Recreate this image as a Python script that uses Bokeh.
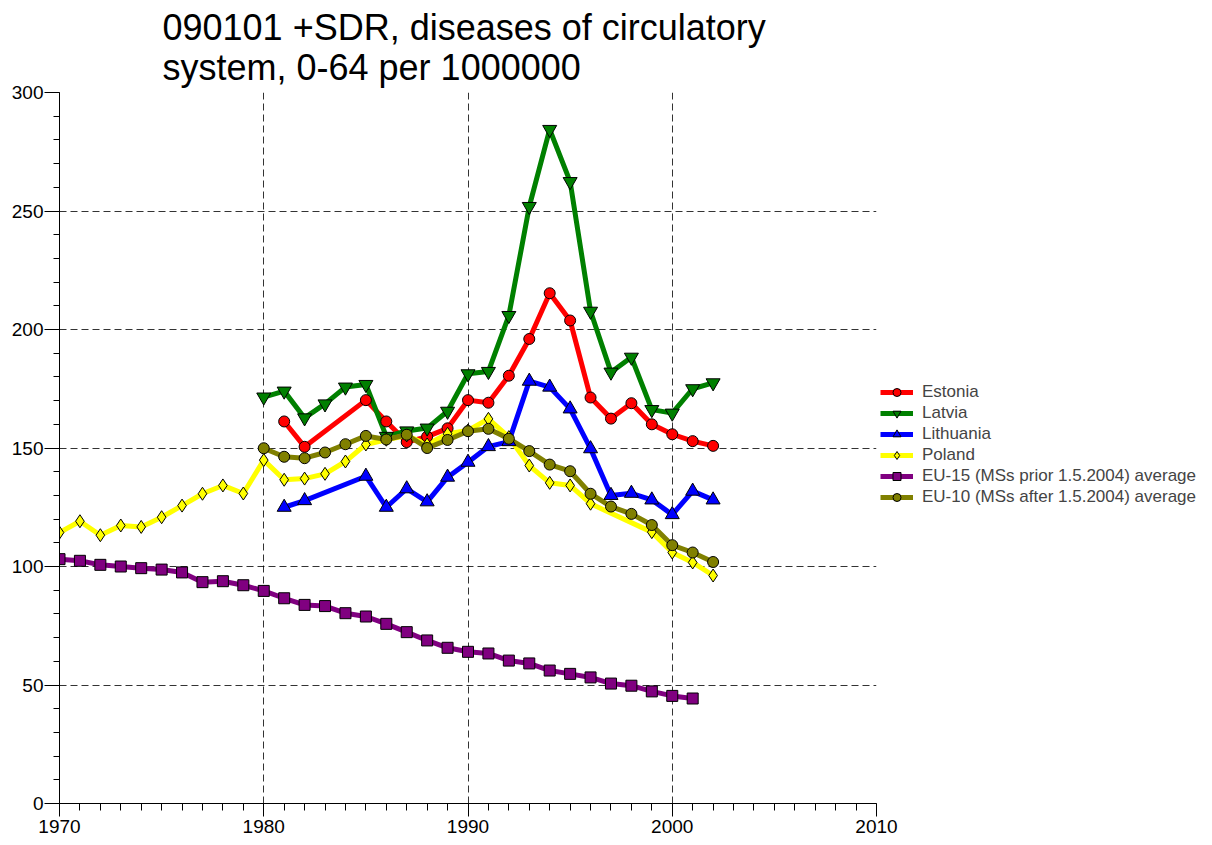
from bokeh.plotting import figure
from bokeh.models import (Title, Legend, LegendItem, FixedTicker, Range1d)
from bokeh.embed import file_html
from bokeh.resources import INLINE

# ---- data ----
estonia_years = [1981, 1982, 1985, 1986, 1987, 1988, 1989, 1990, 1991, 1992, 1993,
                 1994, 1995, 1996, 1997, 1998, 1999, 2000, 2001, 2002]
estonia_vals = [161.2, 150.5, 170.2, 161.2, 152.5, 154.8, 158.3, 170.2, 169.1, 180.5, 196.0,
                215.3, 203.8, 171.3, 162.4, 168.9, 160.0, 155.8, 152.9, 150.9]

latvia_years = list(range(1980, 2003))
latvia_vals = [171.5, 174.0, 162.7, 168.6, 175.7, 176.8, 154.9, 157.2, 158.4, 165.5, 181.3,
               182.3, 205.9, 251.9, 284.4, 262.4, 207.7, 182.0, 188.3, 166.2, 164.7, 175.0, 177.5]

lithuania_years = [1981, 1982, 1985, 1986, 1987, 1988, 1989, 1990, 1991, 1992, 1993,
                   1994, 1995, 1996, 1997, 1998, 1999, 2000, 2001, 2002]
lithuania_vals = [125.0, 127.8, 138.1, 125.0, 132.8, 127.3, 137.7, 144.0, 150.6, 152.7, 178.2,
                  175.7, 166.5, 149.7, 130.0, 130.9, 128.1, 121.9, 131.8, 128.1]

poland_years = list(range(1970, 1997)) + [1999, 2000, 2001, 2002]
poland_vals = [114.3, 119.1, 113.2, 117.3, 116.7, 120.8, 125.7, 130.7, 134.2, 130.8,
               144.9, 136.6, 137.1, 139.1, 144.3, 151.5, 153.5, 155.3, 151.5, 156.0,
               157.4, 162.3, 154.6, 142.6, 135.3, 134.2, 126.5,
               114.5, 105.9, 101.7, 96.2]

eu15_years = list(range(1970, 2002))
eu15_vals = [103.1, 102.4, 100.7, 100.0, 99.3, 98.7, 97.5, 93.4, 93.8, 92.1,
             89.7, 86.6, 83.8, 83.3, 80.3, 78.9, 75.8, 72.3, 68.8, 65.7,
             64.0, 63.3, 60.3, 59.1, 56.1, 54.7, 53.2, 50.6, 49.7, 47.3, 45.4, 44.3]

eu10_years = list(range(1980, 2003))
eu10_vals = [149.9, 146.3, 145.7, 148.1, 151.6, 155.1, 153.6, 155.6, 150.0, 153.4, 157.1,
             158.1, 153.9, 148.7, 143.0, 140.2, 130.7, 125.3, 122.2, 117.5, 109.0, 105.9, 101.9]

x_ticks = [1970, 1980, 1990, 2000, 2010]
y_ticks = [0, 50, 100, 150, 200, 250, 300]

series = [
    ("Estonia", estonia_years, estonia_vals, "#FF0000", "circle", 11),
    ("Latvia", latvia_years, latvia_vals, "#008000", "inverted_triangle", 14),
    ("Lithuania", lithuania_years, lithuania_vals, "#0000FF", "triangle", 14),
    ("Poland", poland_years, poland_vals, "#FFFF00", "diamond", 13),
    ("EU-15 (MSs prior 1.5.2004) average", eu15_years, eu15_vals, "#800080", "square", 11),
    ("EU-10 (MSs after 1.5.2004) average", eu10_years, eu10_vals, "#808000", "circle", 11),
]

FONT = "Liberation Sans"

p = figure(frame_width=817, frame_height=711, output_backend="svg",
           toolbar_location=None, x_range=Range1d(1970, 2010), y_range=Range1d(0, 300),
           min_border_left=59, min_border_bottom=0, min_border_right=0, min_border_top=0)
p.title = Title(text="090101 +SDR, diseases of circulatory\nsystem, 0-64 per 1000000",
                text_font=FONT, text_font_size="36px", text_font_style="normal",
                text_color="black", align="left", offset=103, standoff=9,
                text_line_height=0.97)
p.outline_line_color = None
p.background_fill_color = "white"

p.xaxis.ticker = FixedTicker(ticks=x_ticks, minor_ticks=list(range(1970, 2011)))
p.yaxis.ticker = FixedTicker(ticks=y_ticks, minor_ticks=list(range(0, 301, 10)))
for ax in (p.xaxis, p.yaxis):
    ax.axis_line_color = "black"
    ax.major_tick_line_color = "black"
    ax.minor_tick_line_color = "black"
    ax.major_tick_in = 0
    ax.minor_tick_in = 0
    ax.major_label_text_font = FONT
    ax.major_label_text_font_size = "19px"
    ax.major_label_text_color = "black"
p.xaxis.major_tick_out = 13
p.xaxis.minor_tick_out = 7
p.xaxis.major_label_standoff = 3
p.yaxis.major_tick_out = 15
p.yaxis.minor_tick_out = 6
p.yaxis.major_label_standoff = 1

for g in (p.xgrid, p.ygrid):
    g.grid_line_color = "black"
    g.grid_line_alpha = 0.8
    g.grid_line_dash = "7 4"
    g.grid_line_width = 1

line_rs = []
for name, xs, ys, col, mk, sz in series:
    line_rs.append(p.line(xs, ys, line_color=col, line_width=5))
items = []
for (name, xs, ys, col, mk, sz), lr in zip(series, line_rs):
    sr = p.scatter(xs, ys, marker=mk, size=sz, fill_color=col, line_color="black",
                   line_width=1)
    items.append(LegendItem(label=name, renderers=[lr, sr]))

legend = Legend(items=items, location=(4, 296), label_text_font=FONT,
                label_text_font_size="17px", glyph_width=33, glyph_height=20,
                label_height=20, spacing=1, padding=0, margin=0, label_standoff=9,
                border_line_color=None, background_fill_alpha=0)
p.add_layout(legend, "right")

open("out.html", "w").write(file_html(p, INLINE))
